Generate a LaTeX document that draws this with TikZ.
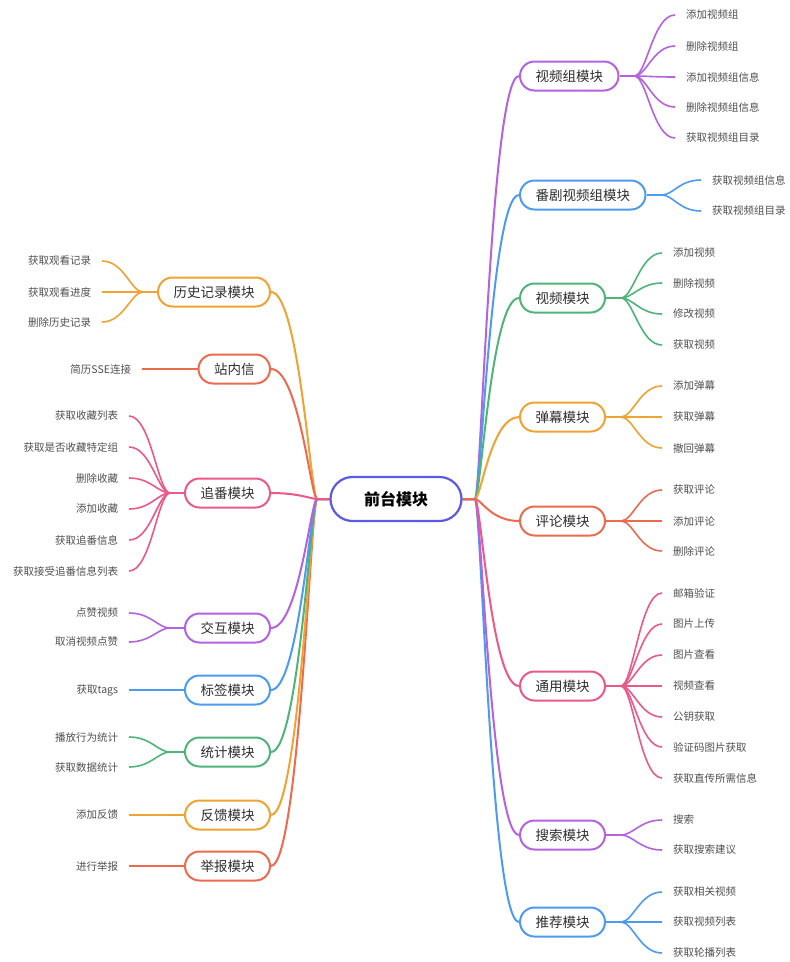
\documentclass[tikz,border=0pt]{standalone}
\usepackage{fontspec}
\setmainfont{Noto Sans CJK SC}
\usetikzlibrary{backgrounds,calc}
\definecolor{cpur}{HTML}{B562E0}
\definecolor{cblu}{HTML}{4C9BEF}
\definecolor{cgrn}{HTML}{4FB47A}
\definecolor{cora}{HTML}{F0A232}
\definecolor{cred}{HTML}{EE6A4F}
\definecolor{cpnk}{HTML}{EC5888}
\definecolor{ccen}{HTML}{5A5AE6}
\definecolor{txtc}{HTML}{2E2E2E}
\definecolor{leafc}{HTML}{505050}
\tikzset{
  modbox/.style={draw=#1, line width=2pt, rounded corners=14.5pt, minimum height=29pt,
    inner xsep=15.5pt, inner ysep=0pt, fill=white, text=txtc,
    font=\fontsize{13.5}{15}\selectfont},
  cenbox/.style={draw=ccen, line width=2.2pt, rounded corners=22pt, minimum height=44pt,
    minimum width=131pt, fill=white, text=black, font=\fontsize{16}{18}\selectfont\bfseries},
  leaf/.style={inner sep=0pt, outer xsep=11pt, text=leafc, font=\fontsize{10.5}{12}\selectfont},
  mainline/.style={draw=#1, line width=2pt},
  leafline/.style={draw=#1, line width=1.6pt},
}
\newcommand\rleaves[4]{% module, color, leaf x, list
  \foreach \txt/\yy [count=\i] in {#4} {
    \node[leaf, anchor=west] (#1-\i) at (#3,\yy) {\txt};
  }
  \begin{pgfonlayer}{background}
  \coordinate (#1b) at ($(#1.east)+(15,0)$);
  \draw[leafline=#2] (#1.east) -- (#1b);
  \foreach \txt/\yy [count=\i] in {#4} {
    \draw[leafline=#2] (#1b) .. controls +(12,0) and +(-22,0) .. (#1-\i.west);
  }
  \end{pgfonlayer}
}
\newcommand\lleaves[4]{% module, color, leaf x, list
  \foreach \txt/\yy [count=\i] in {#4} {
    \node[leaf, anchor=east] (#1-\i) at (#3,\yy) {\txt};
  }
  \begin{pgfonlayer}{background}
  \coordinate (#1b) at ($(#1.west)+(-14,0)$);
  \draw[leafline=#2] (#1.west) -- (#1b);
  \foreach \txt/\yy [count=\i] in {#4} {
    \draw[leafline=#2] (#1b) .. controls +(-12,0) and +(22,0) .. (#1-\i.east);
  }
  \end{pgfonlayer}
}
\begin{document}
\begin{tikzpicture}[x=1pt, y=-1pt]
\useasboundingbox (0,0) rectangle (790,962);
\begin{pgfonlayer}{background}
\fill[white] (0,0) rectangle (790,962);
\end{pgfonlayer}

\node[cenbox] (c) at (396,499) {前台模块};
\coordinate (jl) at (317,499);
\coordinate (jr) at (475,499);

% right modules
\node[modbox=cpur, anchor=west] (m1) at (519,76) {视频组模块};
\node[modbox=cblu, anchor=west] (m2) at (519,195) {番剧视频组模块};
\node[modbox=cgrn, anchor=west] (m3) at (519,298) {视频模块};
\node[modbox=cora, anchor=west] (m4) at (519,417) {弹幕模块};
\node[modbox=cred, anchor=west] (m5) at (519,521) {评论模块};
\node[modbox=cpnk, anchor=west] (m6) at (519,686) {通用模块};
\node[modbox=cpur, anchor=west] (m7) at (519,835) {搜索模块};
\node[modbox=cblu, anchor=west] (m8) at (519,922) {推荐模块};

% left modules
\node[modbox=cora, anchor=east] (l1) at (271,292) {历史记录模块};
\node[modbox=cred, anchor=east] (l2) at (271,369) {站内信};
\node[modbox=cpnk, anchor=east] (l3) at (271,493) {追番模块};
\node[modbox=cpur, anchor=east] (l4) at (271,628) {交互模块};
\node[modbox=cblu, anchor=east] (l5) at (271,690) {标签模块};
\node[modbox=cgrn, anchor=east] (l6) at (271,752) {统计模块};
\node[modbox=cora, anchor=east] (l7) at (271,815) {反馈模块};
\node[modbox=cred, anchor=east] (l8) at (271,866) {举报模块};

% main connectors
\begin{pgfonlayer}{background}
\foreach \m/\col in {m1/cpur,m2/cblu,m3/cgrn,m4/cora,m8/cblu,m7/cpur,m6/cpnk,m5/cred} {
  \draw[mainline=\col] (c.east) -- (jr) .. controls +(6,0) and +(-28,0) .. (\m.west);
}
\foreach \m/\col in {l8/cred,l7/cora,l6/cgrn,l5/cblu,l4/cpur,l1/cora,l2/cred,l3/cpnk} {
  \draw[mainline=\col] (\m.east) .. controls +(28,0) and +(-6,0) .. (jl) -- (c.west);
}
\end{pgfonlayer}

% right leaves
\rleaves{m1}{cpur}{675}{添加视频组/15,删除视频组/46,添加视频组信息/77,删除视频组信息/107,获取视频组目录/138}
\rleaves{m2}{cblu}{701}{获取视频组信息/180,获取视频组目录/211}
\rleaves{m3}{cgrn}{662}{添加视频/253,删除视频/283,修改视频/314,获取视频/345}
\rleaves{m4}{cora}{662}{添加弹幕/386,获取弹幕/417,撤回弹幕/448}
\rleaves{m5}{cred}{662}{获取评论/490,添加评论/521,删除评论/551}
\rleaves{m6}{cpnk}{662}{邮箱验证/593,图片上传/624,图片查看/655,视频查看/686,公钥获取/717,验证码图片获取/747,获取直传所需信息/778}
\rleaves{m7}{cpur}{662}{搜索/820,获取搜索建议/850}
\rleaves{m8}{cblu}{662}{获取相关视频/892,获取视频列表/922,获取轮播列表/953}

% left leaves
\lleaves{l1}{cora}{102}{获取观看记录/261,获取观看进度/292,删除历史记录/322}
\lleaves{l3}{cpnk}{129}{获取收藏列表/416,获取是否收藏特定组/447,删除收藏/478,添加收藏/509,获取追番信息/540,获取接受追番信息列表/571}
\lleaves{l4}{cpur}{129}{点赞视频/613,取消视频点赞/642}
\lleaves{l6}{cgrn}{129}{播放行为统计/737,获取数据统计/767}

% single leaves
\node[leaf, anchor=east] (l2-1) at (142,369) {简历SSE连接};
\node[leaf, anchor=east] (l5-1) at (129,690) {获取tags};
\node[leaf, anchor=east] (l7-1) at (129,815) {添加反馈};
\node[leaf, anchor=east] (l8-1) at (129,866) {进行举报};
\begin{pgfonlayer}{background}
\draw[leafline=cred] (l2-1.east) -- (l2.west);
\draw[leafline=cblu] (l5-1.east) -- (l5.west);
\draw[leafline=cora] (l7-1.east) -- (l7.west);
\draw[leafline=cred] (l8-1.east) -- (l8.west);
\end{pgfonlayer}
\end{tikzpicture}
\end{document}
